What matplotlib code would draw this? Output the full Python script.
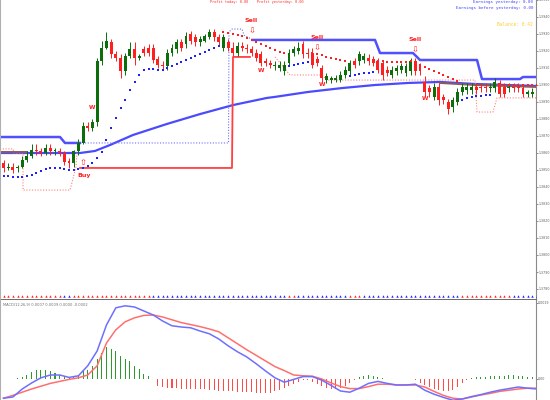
import numpy as np
import matplotlib
matplotlib.use("Agg")
import matplotlib.pyplot as plt
from matplotlib.transforms import blended_transform_factory

# ---------------- data ----------------
opens = [1.3854,1.3851,1.3852,1.3851,1.3852,1.3856,1.3858,1.3862,1.3861,1.3860,
         1.3863,1.3861,1.3861,1.3860,1.3855,1.3854,1.3861,1.3866,1.3876,1.3875,
         1.3878,1.3914,1.3922,1.3925,1.3918,1.3916,1.3908,1.3917,1.3921,1.3916,
         1.3921,1.3922,1.3922,1.3915,1.3912,1.3911,1.3919,1.3921,1.3925,1.3924,
         1.3930,1.3928,1.3925,1.3926,1.3928,1.3931,1.3928,1.3922,1.3925,1.3922,
         1.3919,1.3923,1.3922,1.3921,1.3919,1.3918,1.3914,1.3913,1.3911,1.3910,
         1.3908,1.3913,1.3919,1.3920,1.3924,1.3919,1.3919,1.3915,1.3910,1.3903,
         1.3903,1.3903,1.3903,1.3906,1.3908,1.3914,1.3914,1.3915,1.3916,1.3915,
         1.3914,1.3913,1.3909,1.3906,1.3908,1.3909,1.3907,1.3908,1.3914,1.3911,
         1.3902,1.3898,1.3893,1.3899,1.3893,1.3890,1.3887,1.3890,1.3896,1.3897,
         1.3897,1.3899,1.3899,1.3899,1.3898,1.3898,1.3901,1.3899,1.3898,1.3899,
         1.3899,1.3898,1.3895,1.3895,1.3897]
closes = [1.3851,1.3852,1.3850,1.3852,1.3856,1.3858,1.3862,1.3861,1.3860,1.3863,
          1.3861,1.3862,1.3860,1.3855,1.3854,1.3861,1.3866,1.3876,1.3875,1.3878,
          1.3914,1.3922,1.3926,1.3918,1.3916,1.3908,1.3917,1.3921,1.3916,1.3917,
          1.3919,1.3919,1.3915,1.3912,1.3911,1.3919,1.3922,1.3925,1.3922,1.3929,
          1.3926,1.3925,1.3927,1.3929,1.3931,1.3928,1.3925,1.3928,1.3922,1.3919,
          1.3923,1.3922,1.3921,1.3919,1.3916,1.3913,1.3913,1.3912,1.3912,1.3912,
          1.3912,1.3919,1.3921,1.3922,1.3918,1.3918,1.3912,1.3913,1.3904,1.3905,
          1.3904,1.3904,1.3906,1.3909,1.3913,1.3912,1.3918,1.3917,1.3914,1.3913,
          1.3909,1.3906,1.3907,1.3909,1.3910,1.3911,1.3911,1.3914,1.3908,1.3908,
          1.3896,1.3896,1.3899,1.3891,1.3891,1.3886,1.3891,1.3896,1.3899,1.3899,
          1.3899,1.3897,1.3898,1.3898,1.3899,1.3902,1.3895,1.3895,1.3899,1.3898,
          1.3898,1.3895,1.3896,1.3896,1.3892]
highs = [1.3856,1.3854,1.3854,1.3853,1.3858,1.3861,1.3865,1.3865,1.3863,1.3865,
         1.3865,1.3863,1.3863,1.3861,1.3857,1.3862,1.3868,1.3878,1.3878,1.3880,
         1.3916,1.3926,1.3931,1.3927,1.3920,1.3918,1.3919,1.3925,1.3925,1.3918,
         1.3923,1.3924,1.3924,1.3917,1.3914,1.3921,1.3924,1.3927,1.3927,1.3931,
         1.3932,1.3930,1.3929,1.3930,1.3933,1.3933,1.3930,1.3930,1.3927,1.3925,
         1.3925,1.3925,1.3924,1.3923,1.3921,1.3920,1.3916,1.3915,1.3914,1.3914,
         1.3914,1.3921,1.3923,1.3925,1.3926,1.3922,1.3922,1.3917,1.3912,1.3907,
         1.3905,1.3906,1.3908,1.3911,1.3915,1.3916,1.3920,1.3919,1.3918,1.3917,
         1.3916,1.3915,1.3911,1.3911,1.3912,1.3913,1.3913,1.3916,1.3916,1.3913,
         1.3905,1.3900,1.3901,1.3901,1.3895,1.3892,1.3893,1.3898,1.3901,1.3901,
         1.3901,1.3901,1.3901,1.3901,1.3901,1.3904,1.3903,1.3901,1.3901,1.3901,
         1.3901,1.3900,1.3897,1.3898,1.3899]
lows = [1.3849,1.3850,1.3848,1.3849,1.3851,1.3855,1.3857,1.3859,1.3858,1.3859,
        1.3859,1.3859,1.3858,1.3853,1.3851,1.3852,1.3859,1.3865,1.3873,1.3873,
        1.3876,1.3912,1.3921,1.3916,1.3914,1.3904,1.3906,1.3916,1.3912,1.3915,
        1.3917,1.3917,1.3913,1.3910,1.3909,1.3909,1.3917,1.3919,1.3920,1.3922,
        1.3924,1.3923,1.3923,1.3925,1.3927,1.3926,1.3923,1.3920,1.3920,1.3917,
        1.3917,1.3920,1.3919,1.3917,1.3914,1.3911,1.3911,1.3910,1.3909,1.3908,
        1.3906,1.3911,1.3917,1.3918,1.3916,1.3916,1.3910,1.3911,1.3901,1.3901,
        1.3901,1.3902,1.3902,1.3904,1.3906,1.3910,1.3912,1.3913,1.3912,1.3911,
        1.3907,1.3903,1.3905,1.3904,1.3906,1.3907,1.3905,1.3906,1.3906,1.3906,
        1.3893,1.3893,1.3891,1.3888,1.3889,1.3883,1.3884,1.3888,1.3894,1.3895,
        1.3895,1.3895,1.3896,1.3896,1.3896,1.3896,1.3893,1.3893,1.3896,1.3896,
        1.3896,1.3893,1.3893,1.3893,1.3890]

nan = float("nan")
sar = [1.38465,1.38465,1.38459,1.38459,1.38459,1.38465,1.38471,1.38482,1.38494,1.38506,
       1.38512,1.38512,1.38512,1.38506,1.38500,1.38500,1.38506,1.38512,1.38524,1.38541,
       1.38571,1.38606,1.38676,1.38747,1.38806,1.38865,1.38912,1.38971,1.39018,1.39059,
       1.39088,1.39094,1.39094,1.39088,1.39088,1.39100,1.39112,1.39124,1.39135,1.39147,
       1.39159,1.39171,1.39182,1.39194,1.39206,1.39218,1.39229,1.39312,1.39306,1.39300,
       1.39294,1.39288,1.39276,1.39265,1.39253,1.39241,1.39229,1.39218,1.39206,1.39194,
       1.39188,1.39112,1.39118,1.39124,1.39129,1.39135,1.39188,1.39182,1.39176,1.39165,
       1.39159,1.39153,1.39147,1.39141,1.39053,1.39059,1.39065,1.39071,1.39071,1.39076,
       1.39141,1.39141,1.39135,1.39135,1.39135,1.39135,1.39135,1.39141,1.39129,1.39118,
       1.39106,1.39094,1.39082,1.39071,1.39059,1.39047,1.39035,1.39024,1.38912,1.38924,
       1.38929,1.38935,1.38935,1.38941,1.38941,nan,1.39000,1.39000,1.39000,1.39000,
       1.39000,1.39000,1.39000,1.39000,1.39000]
sar_dir = [1]*47 + [-1]*14 + [1]*5 + [-1]*8 + [1]*6 + [-1]*18 + [1]*7 + [-1]*10

trend_row = [-1]*13 + [1]*2 + [-1]*17 + [1]*29 + [-1]*2 + [1]*11 + [-1]*3 + [1]*21 + [-1]*11 + [1]*6

# moving average (thick blue) and a second (brown) average
ma_x = [-0.75, 16.35, 19.55, 22.76, 27.67, 34.94, 41.99, 49.04, 56.30, 58.01, 65.06, 72.33, 79.38, 86.43, 93.27, 100.75, 114.21]
ma_y = [1.38600, 1.38600, 1.38612, 1.38647, 1.38706, 1.38771, 1.38829, 1.38882, 1.38924, 1.38930, 1.38959, 1.38982, 1.39000, 1.39012, 1.39018, 1.39006, 1.38994]
ma2_left_x = [-0.75, 5.02]
ma2_left_y = [1.38606, 1.38606]
ma2_right_x = [93.27, 100.75, 114.21]
ma2_right_y = [1.39012, 1.39000, 1.38988]

# upper channel (thick blue) and its dotted part
upA_x = [-0.75, 12.07, 13.14, 16.35]
upA_y = [1.38694, 1.38694, 1.38659, 1.38659]
upB_x = [53.31, 79.38, 80.45, 87.5, 89.0, 101.18, 102.24, 110.36, 111.0, 114.21]
upB_y = [1.39265, 1.39265, 1.39188, 1.39188, 1.39147, 1.39147, 1.39035, 1.39035, 1.39047, 1.39047]
updot_x = [17.41, 48.08, 48.18, 48.82, 50.96, 51.39, 53.31]
updot_y = [1.38659, 1.38659, 1.39312, 1.39329, 1.39329, 1.39294, 1.39265]

# red stop line
stop_x = [16.35, 48.82, 49.04, 52.66]
stop_y = [1.38512, 1.38512, 1.39165, 1.39165]

# pink dotted lower band
lowL_x = [-0.75, 2.03, 2.24, 4.17, 4.17, 14.21, 15.49, 15.71]
lowL_y = [1.38624, 1.38624, 1.38600, 1.38600, 1.38382, 1.38382, 1.38518, 1.38606]
lowR_x = [58.01, 61.22, 68.06, 69.12, 100.75, 101.18, 104.59, 105.45, 114.21]
lowR_y = [1.39165, 1.39059, 1.39059, 1.39029, 1.39029, 1.38841, 1.38841, 1.38924, 1.38924]

# signals
buy_idx, buy_price = [17], [1.38547]
sell_idx, sell_price = [53, 67, 88], [1.39318, 1.39218, 1.39206]
w_idx, w_price = [19, 55, 68, 90], [1.38865, 1.39088, 1.39000, 1.38918]

# MACD panel (every second candle)
macd_idx = list(range(0, 115, 2))
macd = [-0.00048,-0.00045,-0.00025,-0.00010,0.00003,0.00010,0.00010,0.00004,0.00008,0.00033,
        0.00070,0.00135,0.00178,0.00183,0.00180,0.00170,0.00160,0.00145,0.00133,0.00130,
        0.00128,0.00120,0.00113,0.00100,0.00083,0.00068,0.00055,0.00038,0.00020,0.00003,
        -0.00008,-0.00001,0.00006,0.00006,-0.00003,-0.00016,-0.00030,-0.00033,-0.00023,-0.00011,
        -0.00006,-0.00011,-0.00015,-0.00015,-0.00013,-0.00028,-0.00038,-0.00046,-0.00053,-0.00050,
        -0.00044,-0.00039,-0.00033,-0.00028,-0.00024,-0.00020,-0.00023,-0.00025]
signal = [-0.00048,-0.00041,-0.00033,-0.00025,-0.00018,-0.00011,-0.00006,-0.00001,0.00003,0.00010,
          0.00033,0.00090,0.00123,0.00143,0.00153,0.00159,0.00160,0.00155,0.00148,0.00141,
          0.00136,0.00131,0.00125,0.00118,0.00103,0.00088,0.00073,0.00059,0.00045,0.00031,
          0.00021,0.00010,0.00008,0.00007,0.00000,-0.00010,-0.00019,-0.00024,-0.00024,-0.00019,
          -0.00013,-0.00013,-0.00015,-0.00015,-0.00015,-0.00020,-0.00031,-0.00041,-0.00048,-0.00050,
          -0.00045,-0.00040,-0.00036,-0.00031,-0.00028,-0.00025,-0.00023,-0.00023]
hist = [-0.00001,-0.00001,0.00001,0.00003,0.00005,0.00010,0.00017,0.00022,0.00022,0.00022,
        0.00019,0.00015,0.00011,0.00008,0.00005,0.00005,0.00008,0.00019,0.00023,0.00033,
        0.00050,0.00065,0.00080,0.00075,0.00070,0.00058,0.00049,0.00045,0.00033,0.00024,
        0.00012,0.00008,-0.00001,-0.00018,-0.00020,-0.00023,-0.00023,-0.00023,-0.00025,-0.00025,
        -0.00025,-0.00025,-0.00025,-0.00025,-0.00028,-0.00028,-0.00030,-0.00030,-0.00030,-0.00030,
        -0.00033,-0.00033,-0.00033,-0.00033,-0.00035,-0.00035,-0.00035,-0.00035,-0.00030,-0.00028,
        -0.00023,-0.00018,-0.00013,-0.00008,-0.00003,-0.00003,-0.00008,-0.00013,-0.00018,-0.00023,
        -0.00025,-0.00025,-0.00023,-0.00018,-0.00010,-0.00003,0.00005,0.00008,0.00010,0.00008,
        0.00004,0.00002,0.00001,0.00001,0.00001,0.00001,0.00001,-0.00001,-0.00003,-0.00010,
        -0.00015,-0.00020,-0.00025,-0.00028,-0.00030,-0.00030,-0.00028,-0.00020,-0.00010,-0.00003,
        0.00003,0.00005,0.00005,0.00005,0.00007,0.00008,0.00008,0.00008,0.00010,0.00009,
        0.00008,0.00008,0.00006,0.00005,0.00005]

price_ticks = [1.3780, 1.3790, 1.3800, 1.3810, 1.3820, 1.3830, 1.3840, 1.3850, 1.3860,
               1.3870, 1.3880, 1.3890, 1.3900, 1.3910, 1.3920, 1.3930, 1.3940, 1.3950]
macd_ticks = [0.0019, 0.0]
macd_tick_labels = ["0.0019", "0.00"]

top_red_text = "Profit today: 0.00    Profit yesterday: 0.00"
earn1_text = "Earnings yesterday: 0.00"
earn2_text = "Earnings before yesterday: 0.00"
balance_text = "Balance: 0.42"
macd_label = "MACD(12,26,9) 0.0007 0.0009 0.0000 -0.0002"

# ---------------- figure ----------------
W, H, DPI = 550, 400, 100
fig = plt.figure(figsize=(W / DPI, H / DPI), dpi=DPI)
fig.patch.set_facecolor("white")

AX_RIGHT_PX = 536
right = AX_RIGHT_PX / W
XMIN = -0.75
XMAX = (AX_RIGHT_PX - 3.5) / 4.68
ax = fig.add_axes([0, 100 / H, right, 300 / H])
ax2 = fig.add_axes([0, 0, right, 100 / H])

GREEN = "#0b6e0b"
RED = "#ff1f1f"
GREY = "#8a8a8a"

n = len(closes)
x = np.arange(n)
o = np.array(opens); c = np.array(closes); hi = np.array(highs); lo = np.array(lows)
up = c >= o

# overlays (below candles)
ax.plot(ma_x, ma_y, color="#4a4aff", lw=1.6, zorder=2, solid_capstyle="butt")
ax.plot(ma2_left_x, ma2_left_y, color="#8c5a5a", lw=1.4, zorder=2.1)
ax.plot(ma2_right_x, ma2_right_y, color="#8c5a5a", lw=1.4, zorder=2.1)
ax.plot(upA_x, upA_y, color="#5050ff", lw=1.8, zorder=2)
ax.plot(upB_x, upB_y, color="#5050ff", lw=1.8, zorder=2)
ax.plot(updot_x, updot_y, color="#7070ff", lw=0.8, ls=(0, (1, 1.5)), zorder=2)
ax.plot(stop_x, stop_y, color="#ff4040", lw=1.3, zorder=2)
ax.plot(lowL_x, lowL_y, color="#ff8080", lw=0.8, ls=(0, (1, 1.5)), zorder=2)
ax.plot(lowR_x, lowR_y, color="#ff8080", lw=0.8, ls=(0, (1, 1.5)), zorder=2)

# candles
colors = np.where(up, GREEN, RED)
ax.vlines(x, lo, hi, colors=colors, lw=0.7, zorder=3)
body_lo = np.minimum(o, c)
body_h = np.maximum(np.abs(c - o), 0.00007)
ax.bar(x, body_h, bottom=body_lo, width=0.62, color=colors, linewidth=0, zorder=4)

# parabolic SAR dots
sar_a = np.array(sar, dtype=float)
sd = np.array(sar_dir)
ax.scatter(x[sd > 0], sar_a[sd > 0], s=2.2, marker="s", color="#2020ff", linewidths=0, zorder=5)
ax.scatter(x[sd < 0], sar_a[sd < 0], s=2.2, marker="s", color="#ff2020", linewidths=0, zorder=5)

# signals
for i, p in zip(buy_idx, buy_price):
    ax.text(i, p, "\u21e7", color=RED, fontsize=6, ha="center", va="center", zorder=6)
    ax.annotate("Buy", (i, p), xytext=(1, -10), textcoords="offset points",
                color=RED, fontsize=4.5, fontweight="bold", ha="center", va="center", zorder=6)
for i, p in zip(sell_idx, sell_price):
    ax.text(i, p, "\u21e9", color=RED, fontsize=6, ha="center", va="center", zorder=6)
    ax.annotate("Sell", (i, p), xytext=(0, 7.5), textcoords="offset points",
                color=RED, fontsize=4.5, fontweight="bold", ha="center", va="center", zorder=6)
for i, p in zip(w_idx, w_price):
    ax.text(i, p, "W", color=RED, fontsize=4.2, fontweight="bold", ha="center", va="center", zorder=6)

# trend row above separator
tr = np.array(trend_row)
bt = blended_transform_factory(ax.transData, ax.transAxes)
ax.scatter(x[tr > 0], np.full((tr > 0).sum(), 0.013), s=3, marker="^", color="#2020ff",
           linewidths=0, transform=bt, zorder=5, clip_on=True)
ax.scatter(x[tr < 0], np.full((tr < 0).sum(), 0.013), s=3, marker="^", color="#ff2020",
           linewidths=0, transform=bt, zorder=5, clip_on=True)

ax.set_xlim(XMIN, XMAX)
ax.set_ylim(1.3950 - 300 / 17000, 1.3950)
ax.set_facecolor("white")
ax.spines["top"].set_visible(False)
ax.spines["bottom"].set_color("#505050")
ax.spines["bottom"].set_linewidth(1.2)
ax.spines["right"].set_color(GREY)
ax.spines["left"].set_color("#b0b0b0")
ax.spines["left"].set_linewidth(1.5)
ax.set_xticks([])
ax.yaxis.tick_right()
ax.set_yticks(price_ticks)
ax.set_yticklabels([f"{t:.4f}" for t in price_ticks])
ax.tick_params(axis="y", labelsize=2.3, colors="#606060", length=1.2, width=0.5, pad=0.4)

# MACD panel
hist_a = np.array(hist)
hcol = np.where(hist_a >= 0, "#2e9a2e", "#ff4a4a")
ax2.bar(x, hist_a, width=0.22, color=hcol, linewidth=0, zorder=2)
ax2.plot(macd_idx, signal, color="#ff6f6f", lw=1.1, zorder=3)
ax2.plot(macd_idx, macd, color="#6f6fff", lw=1.1, zorder=4)
ax2.set_xlim(XMIN, XMAX)
ax2.set_ylim((379 - 400) * 0.000025, (379 - 300) * 0.000025)
ax2.set_facecolor("white")
ax2.spines["top"].set_visible(False)
ax2.spines["bottom"].set_visible(False)
ax2.spines["right"].set_color(GREY)
ax2.spines["left"].set_color("#b0b0b0")
ax2.spines["left"].set_linewidth(1.5)
ax2.set_xticks([])
ax2.yaxis.tick_right()
ax2.set_yticks(macd_ticks)
ax2.set_yticklabels(macd_tick_labels)
ax2.tick_params(axis="y", labelsize=2.3, colors="#606060", length=1.2, width=0.5, pad=0.4)
ax2.text(0.005, 0.955, macd_label, transform=ax2.transAxes, fontsize=2.6, color="#707070",
         ha="left", va="center", family="DejaVu Sans")

# header texts
fig.text(257 / W, 1 - 1.5 / H, top_red_text, color="#ff3030", fontsize=2.6,
         family="DejaVu Sans Mono", ha="center", va="center")
fig.text(533 / W, 1 - 2.5 / H, earn1_text, color="#4040ff", fontsize=2.95,
         family="DejaVu Sans Mono", ha="right", va="center")
fig.text(533 / W, 1 - 8.5 / H, earn2_text, color="#4040ff", fontsize=2.95,
         family="DejaVu Sans Mono", ha="right", va="center")
fig.text(533 / W, 1 - 24.5 / H, balance_text, color="#ffcc33", fontsize=3.3,
         family="DejaVu Sans Mono", ha="right", va="center")

fig.savefig("out.png", dpi=DPI, facecolor="white")
